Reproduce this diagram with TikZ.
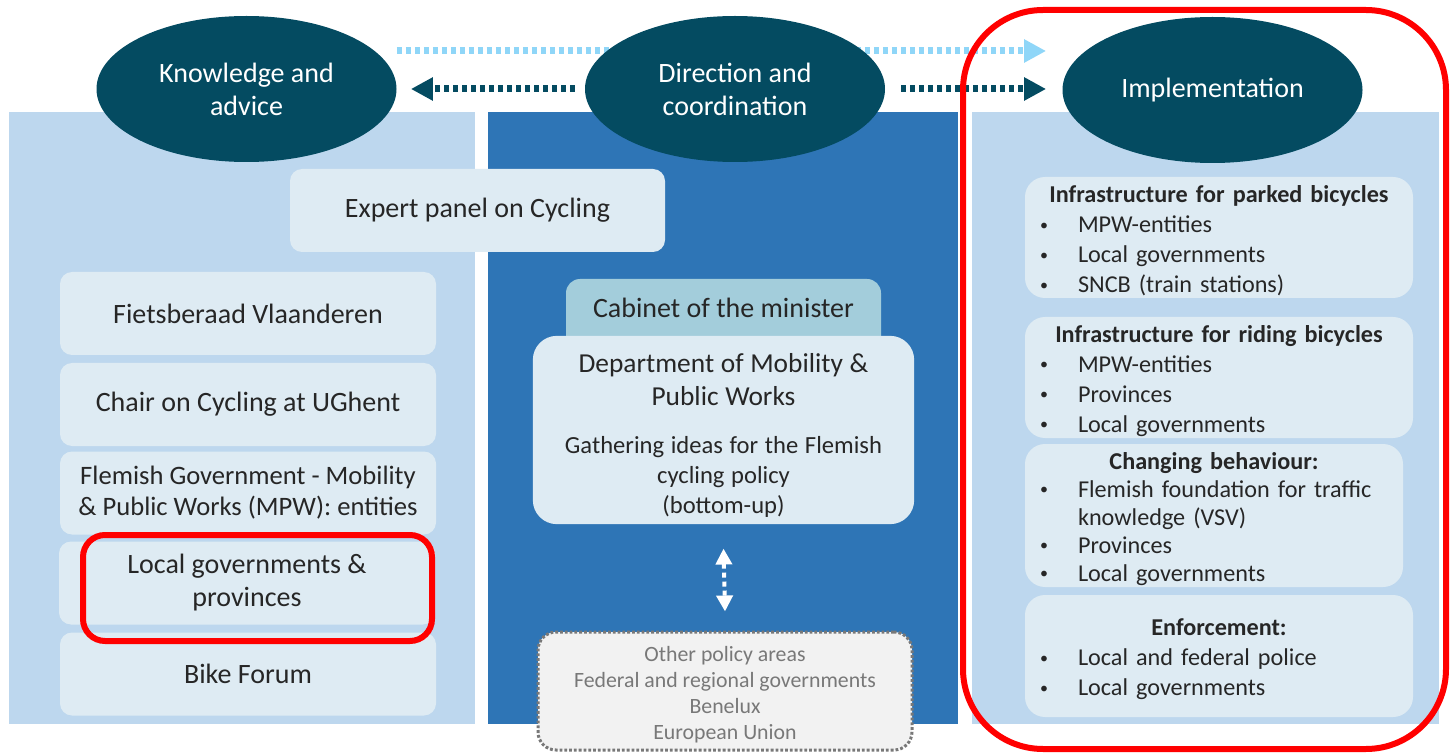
\documentclass[tikz,border=0pt]{standalone}
\usepackage{fontspec}
\setmainfont{Carlito}
\usetikzlibrary{shapes.geometric,arrows.meta}

\newcommand{\boxhead}[1]{{\centering\bfseries\rule{0pt}{12pt}#1\par}}
\newcommand{\bitem}[1]{\par\noindent\hspace*{7.5pt}\makebox[19pt][l]{\raisebox{1.3pt}{\fontsize{8}{8}\selectfont\textbullet}}#1}
\newcommand{\bcont}[1]{\par\noindent\hspace*{26.5pt}#1}

\begin{document}
\begin{tikzpicture}[x=0.5pt,y=-0.5pt]

    % colours
    \definecolor{ovalblue}{RGB}{4,75,97}
    \definecolor{panellight}{RGB}{189,215,238}
    \definecolor{paneldark}{RGB}{46,117,182}
    \definecolor{boxfill}{RGB}{222,235,243}
    \definecolor{tabfill}{RGB}{163,205,219}
    \definecolor{skyarrow}{RGB}{143,214,248}
    \definecolor{inkgrey}{RGB}{38,38,38}
    \definecolor{othergrey}{RGB}{120,120,120}
    \definecolor{otherfill}{RGB}{242,242,242}
    \definecolor{markred}{RGB}{255,0,0}

    \tikzset{
      headoval/.style={ellipse, fill=ovalblue, text=white, minimum width=150pt, minimum height=73pt, align=center, font=\fontsize{14}{16.5}\selectfont},
      leftbox/.style={fill=boxfill, rounded corners=6pt, minimum width=188pt, minimum height=41.5pt, align=center, text=inkgrey, font=\fontsize{14}{16.5}\selectfont},
      rightbox/.style={fill=boxfill, rounded corners=10pt, text width=194pt, inner xsep=0pt, inner ysep=0pt, align=left, text=inkgrey, font=\fontsize{12.1}{15}\selectfont},
      flowdots/.style={line width=3.5pt, dash pattern=on 2.5pt off 2pt, -{Triangle[length=11pt,width=11pt]}},
      redmark/.style={draw=markred, line width=3pt}
    }

    \useasboundingbox (0,0) rectangle (1452,754);

    % panels
    \fill[panellight] (9,112) rectangle (475,724);
    \fill[paneldark] (488,112) rectangle (958,724);
    \fill[panellight] (972,112) rectangle (1439,724);

    % ovals and arrows
    \node[headoval] (know) at (246.5,89) {Knowledge and\\advice};
    \node[headoval] (impl) at (1212.5,90) {Implementation};
    \draw[flowdots, skyarrow] ([yshift=19pt]know.east) -- ([xshift=-8pt,yshift=19.5pt]impl.west);
    \node[headoval] (dir) at (735,89) {Direction and\\coordination};
    \draw[flowdots, ovalblue] ([xshift=-5pt]dir.west) -- ([xshift=7pt]know.east);
    \draw[flowdots, ovalblue] ([xshift=8pt]dir.east) -- ([xshift=-8pt,yshift=0.5pt]impl.west);

    % knowledge and advice
    \node[leftbox, minimum width=187.5pt] (expert) at (477.5,210.5) {Expert panel on Cycling};
    \node[leftbox] (fiets) at (248,313.5) {Fietsberaad Vlaanderen};
    \node[leftbox] (chair) at (248,404.5) {Chair on Cycling at UGhent};
    \node[leftbox, font=\fontsize{13.3}{15.5}\selectfont] (flemish) at (248,493) {Flemish Government - Mobility\\\& Public Works (MPW): entities};
    \node[leftbox] (local) at (247,583) {Local governments \&\\provinces};
    \node[leftbox] (forum) at (248,674) {Bike Forum};
    \draw[redmark, rounded corners=11pt] (83,535) rectangle (432,641);

    % direction and coordination
    \fill[tabfill, rounded corners=7pt] (566,360) -- (566,279) -- (881,279) -- (881,360) -- cycle;
    \node[text=inkgrey, font=\fontsize{14}{16}\selectfont] (cabinet) at (723.5,308) {Cabinet of the minister};
    \node[fill=boxfill, rounded corners=12pt, minimum width=188.5pt, minimum height=93pt, text width=184pt, align=center, text=inkgrey] (dept) at (723.5,430)
      {{\fontsize{13.7}{16.5}\selectfont\rule{0pt}{15pt}Department of Mobility \&\\Public Works\par}\vspace{9pt}{\fontsize{12.3}{15}\selectfont Gathering ideas for the Flemish\\cycling policy\\(bottom-up)\par}};
    \node[fill=otherfill, draw=othergrey, line width=1.5pt, dash pattern=on 1.4pt off 1pt, rounded corners=9pt, minimum width=187pt, minimum height=59pt, align=center, text=othergrey, font=\fontsize{10.9}{13}\selectfont] (other) at (725,691)
      {\rule{0pt}{11pt}Other policy areas\\Federal and regional governments\\Benelux\\European Union};
    \draw[white, line width=2pt, dash pattern=on 2.5pt off 2pt, {Triangle[length=8pt,width=8pt]}-{Triangle[length=8pt,width=8pt]}] ([yshift=-12pt]dept.south) -- ([yshift=9.5pt]other.north);

    % implementation
    \node[rightbox, minimum height=60.5pt] (parked) at (1219,237.5)
      {\boxhead{Infrastructure for parked bicycles}\bitem{MPW-entities}\bitem{Local governments}\bitem{SNCB (train stations)}};
    \node[rightbox, minimum height=60.5pt] (riding) at (1219,377.5)
      {\boxhead{Infrastructure for riding bicycles}\bitem{MPW-entities}\bitem{Provinces}\bitem{Local governments}};
    \node[rightbox, text width=189pt, minimum height=71.5pt, font=\fontsize{12.1}{14}\selectfont] (behave) at (1214,515.5)
      {\boxhead{Changing behaviour:}\bitem{Flemish foundation for traffic}\bcont{knowledge (VSV)}\bitem{Provinces}\bitem{Local governments}};
    \node[rightbox, minimum height=61pt] (enforce) at (1219,656)
      {\boxhead{Enforcement:}\bitem{Local and federal police}\bitem{Local governments}};
    \draw[redmark, rounded corners=40pt] (963,10) rectangle (1446,749);

\end{tikzpicture}
\end{document}
